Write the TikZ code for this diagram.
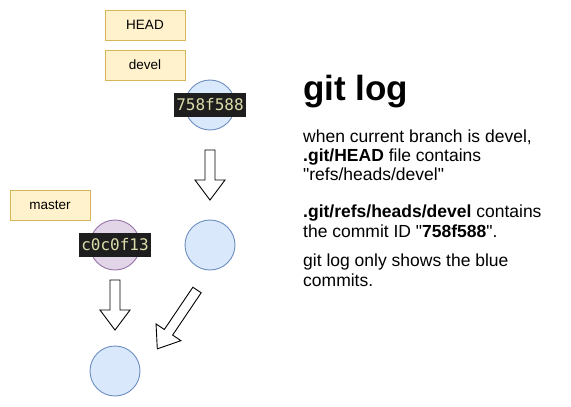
\documentclass[tikz,border=0pt]{standalone}
\usepackage{fontspec}
\setmainfont{Liberation Sans}
\newfontfamily\hexfont{DejaVu Sans Mono}
\usepackage{xcolor}
\usetikzlibrary{positioning}

\definecolor{refFill}{HTML}{FFF2CC}
\definecolor{refLine}{HTML}{D6B656}
\definecolor{blueFill}{HTML}{DAE8FC}
\definecolor{blueLine}{HTML}{6C8EBF}
\definecolor{purpleFill}{HTML}{E1D5E7}
\definecolor{purpleLine}{HTML}{9673A6}
\definecolor{hexBg}{HTML}{1E1E1E}
\definecolor{hexText}{HTML}{DCDCAA}

\tikzset{
  refbox/.style={draw=refLine, fill=refFill, line width=0.9pt, minimum width=80pt, minimum height=30pt, font=\fontsize{13.5}{16}\selectfont},
  commit/.style={draw=blueLine, fill=blueFill, line width=0.9pt, circle, minimum size=50pt},
  hexlabel/.style={fill=hexBg, text=hexText, inner xsep=2pt, minimum height=24pt, font=\hexfont\fontsize{16}{18}\selectfont},
  blockarrow/.pic={\draw[line width=0.9pt, fill=white, line join=miter]
    (-5,0) -- (5,0) -- (5,#1-20) -- (15,#1-20) -- (0,#1) -- (-15,#1-20) -- (-5,#1-20) -- cycle;}
}

\begin{document}
\begin{tikzpicture}[x=1pt,y=-1pt]
\useasboundingbox (0,0) rectangle (571,407);

% refs
\node[refbox] (head) at (145,25) {HEAD};
\node[refbox] (devel) at (145,65) {devel};
\node[refbox] (master) at (50,205) {master};

% commits
\node[commit] (c758) at (210,105) {};
\node[hexlabel] (id758) at (c758) {758f588};
\node[commit] (cmid) at (210,245) {};
\node[commit, draw=purpleLine, fill=purpleFill] (cc0c) at (115,245) {};
\node[hexlabel] (idc0c) at (cc0c) {c0c0f13};
\node[commit] (cbase) at (115,371) {};

% arrows
\pic at (210,150) {blockarrow=50};
\pic at (115,280) {blockarrow=50};
\pic[rotate=-34] at (197,290) {blockarrow=71};

% text
\node[anchor=base west, inner sep=0, font=\bfseries\fontsize{35}{40}\selectfont] (title) at (303,100) {git log};
\node[anchor=north west, inner sep=0, align=left, font=\fontsize{17.5}{19}\selectfont] (para1) at (303,130)
  {when current branch is devel,\\\textbf{.git/HEAD} file contains\\\textquotedbl refs/heads/devel\textquotedbl};
\node[anchor=north west, inner sep=0, align=left, font=\fontsize{17.5}{19.5}\selectfont] (para2) at (303,205)
  {\textbf{.git/refs/heads/devel} contains\\the commit ID \textquotedbl\textbf{758f588}\textquotedbl.};
\node[anchor=north west, inner sep=0, align=left, font=\fontsize{17.5}{20}\selectfont] (para3) at (303,254)
  {git log only shows the blue\\commits.};
\end{tikzpicture}
\end{document}
